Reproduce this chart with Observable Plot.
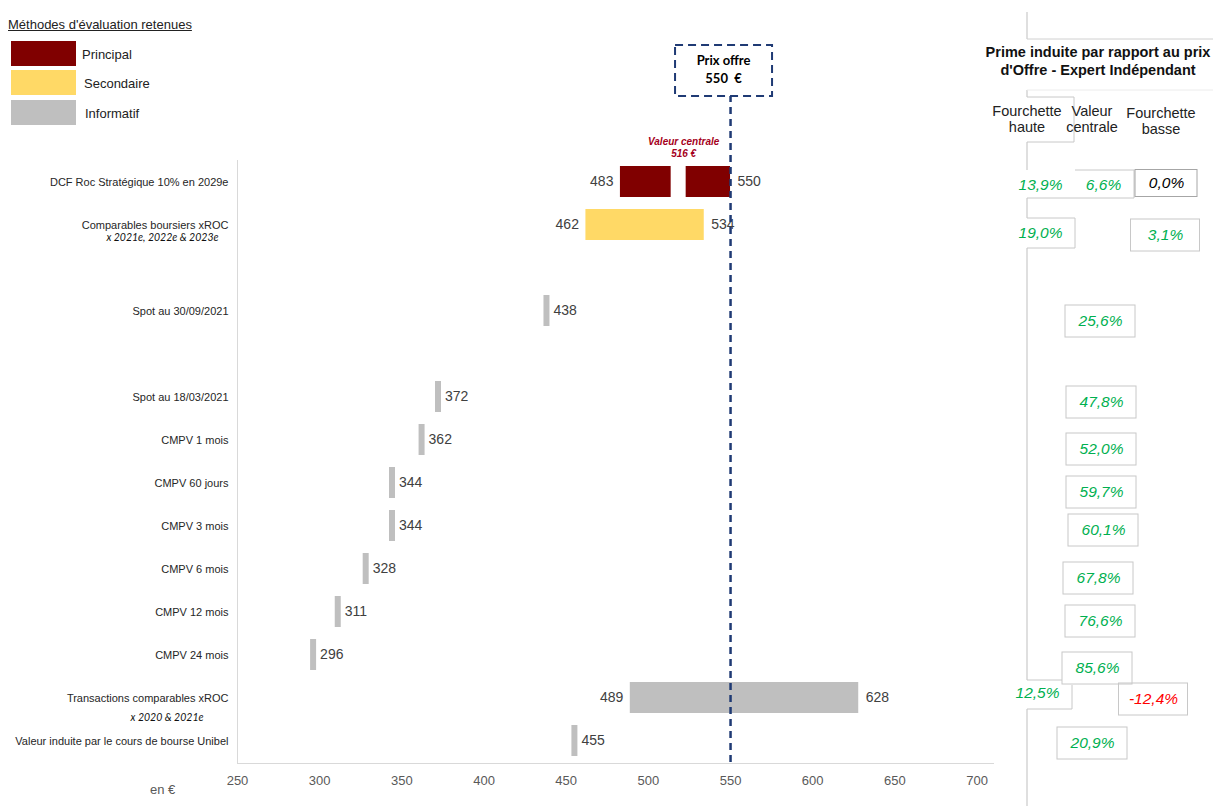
<!DOCTYPE html>
<html lang="fr"><head><meta charset="utf-8">
<script src="https://cdn.jsdelivr.net/npm/d3@7"></script>
<script src="https://cdn.jsdelivr.net/npm/@observablehq/plot@0.6"></script>
<style>
html,body{margin:0;padding:0;background:#fff;}
#wrap{position:relative;width:1213px;height:806px;overflow:hidden;font-family:"Liberation Sans",Arial,sans-serif;color:#222;}
#wrap svg{position:absolute;left:0;top:0;}
.abs{position:absolute;white-space:nowrap;}
.sw{position:absolute;}
</style></head><body><div id="wrap"></div>
<script>
// ---------- DATA ----------
const rows = ["DCF Roc Stratégique 10% en 2029e","Comparables boursiers xROC","Spot au 30/09/2021","Spot au 18/03/2021","CMPV 1 mois","CMPV 60 jours","CMPV 3 mois","CMPV 6 mois","CMPV 12 mois","CMPV 24 mois","Transactions comparables xROC","Valeur induite par le cours de bourse Unibel"];
const subLabels = ["","x 2021e, 2022e & 2023e","","","","","","","","","x 2020 & 2021e",""];
const methodType = ["Principal","Secondaire","Informatif","Informatif","Informatif","Informatif","Informatif","Informatif","Informatif","Informatif","Informatif","Informatif"];
const lowValues = [483,462,438,372,362,344,344,328,311,296,489,455];
const highValues = [550,534,null,null,null,null,null,null,null,null,628,null];
const centralValues = [516,null,null,null,null,null,null,null,null,null,null,null];
const offerPrice = 550;
const premiumHigh = [13.9,19.0,null,null,null,null,null,null,null,null,12.5,null];
const premiumCentral = [6.6,null,25.6,47.8,52.0,59.7,60.1,67.8,76.6,85.6,null,20.9];
const premiumLow = [0.0,3.1,null,null,null,null,null,null,null,null,-12.4,null];
const xTicks = [250,300,350,400,450,500,550,600,650,700];
const legendTypes = ["Principal","Secondaire","Informatif"];
const legendColors = ["#800000","#ffd966","#bfbfbf"];
const columnHeaders = [["Fourchette","haute"],["Valeur","centrale"],["Fourchette","basse"]];
const panelTitle = ["Prime induite par rapport au prix","d'Offre - Expert Indépendant"];

// ---------- BUILD ----------
const wrap = document.getElementById("wrap");
const data = rows.map((name,i)=>({name, sub: subLabels[i], type: methodType[i], low: lowValues[i], high: highValues[i], central: centralValues[i]}));
const yDomain = [rows[0], rows[1], "·gap1", rows[2], "·gap2", ...rows.slice(3)];
const ranges = data.filter(d=>d.high!=null);
const points = data.filter(d=>d.high==null);
const fontMain = "'Liberation Sans', Arial, sans-serif";
const premiumColor = v => v > 0 ? "#00b050" : v < 0 ? "#ff0000" : "#000000";
const fmtPct = v => v.toFixed(1).replace(".", ",") + "%";

// layout offsets (px) of the premium cells, relative to the right edge of the frame and the row centre
const cellOffsets = {
  high: {0:[47,3.5],1:[47,8.5],10:[44,-4.5]},
  central: {0:[110,3.5],2:[107,10.5],3:[108,5.5],4:[108,9.5],5:[108,9.5],6:[110,4.5],7:[105,9.5],8:[107,9.5],9:[104,13.5],11:[99,2.5]},
  low: {0:[173,1.5],1:[172,10.5],10:[160,1.5]}
};
const cells = [];
[["high",premiumHigh],["central",premiumCentral],["low",premiumLow]].forEach(([col, arr]) => arr.forEach((v,i)=>{
  if (v!=null){ const [dx,dy]=cellOffsets[col][i]; cells.push({name: rows[i], value: v, col, i, dx, dy}); }
}));

const plot = Plot.plot({
  width: 1213, height: 806,
  marginLeft: 237, marginRight: 220, marginTop: 160, marginBottom: 43,
  style: {fontFamily: fontMain, fontSize: "11px", color: "#262626", background: "transparent", overflow: "visible"},
  x: {domain: [250, 710]},
  y: {domain: yDomain, paddingInner: 0.27, paddingOuter: 0.135},
  color: {domain: legendTypes, range: legendColors},
  marks: [
    Plot.ruleX([250], {stroke: "#d9d9d9", strokeWidth: 1}),
    Plot.frame({anchor: "bottom", stroke: "#d9d9d9"}),
    Plot.axisX({ticks: xTicks, tickSize: 0, tickPadding: 12, fontSize: 13, color: "#595959", fill: "#595959", label: null, tickFormat: d => String(d)}),
    Plot.axisY({tickSize: 0, tickPadding: 9, fontSize: 11, color: "#262626", fill: "#262626", label: null, tickFormat: d => d.startsWith("·") ? "" : d}),
    Plot.text([data[1]], {y: "name", text: "sub", frameAnchor: "left", textAnchor: "end", dx: -19, dy: 12.5, fontStyle: "italic", fontFamily: "Lato", fontSize: 10.5, fill: "#111"}),
    Plot.text([data[10]], {y: "name", text: "sub", frameAnchor: "left", textAnchor: "end", dx: -34, dy: 19.5, fontStyle: "italic", fontFamily: "Lato", fontSize: 10.5, fill: "#111"}),
    Plot.barX(ranges, {x1: "low", x2: "high", y: "name", fill: "type"}),
    Plot.tickX(data.filter(d=>d.central!=null), {x: "central", y: "name", stroke: "white", strokeWidth: 15, dx: 3.5, insetTop: -1, insetBottom: -1}),
    Plot.tickX(points, {x: "low", y: "name", stroke: "type", strokeWidth: 6}),
    Plot.text(ranges, {x: "low", y: "name", text: d => String(d.low), textAnchor: "end", dx: -7, fontSize: 14, fill: "#404040"}),
    Plot.text(ranges, {x: "high", y: "name", text: d => String(d.high), textAnchor: "start", dx: 7, fontSize: 14, fill: "#404040"}),
    Plot.text(points, {x: "low", y: "name", text: d => String(d.low), textAnchor: "start", dx: 7, fontSize: 14, fill: "#404040"}),
    Plot.text(data.filter(d=>d.central!=null), {x: "central", y: "name", text: d => `Valeur centrale\n${d.central} €`, lineAnchor: "bottom", dx: 9, dy: -25, fill: "#a50021", fontWeight: "bold", fontStyle: "italic", fontSize: 10, lineHeight: 1.2}),
    ...cells.map(c => Plot.text([c], {y: "name", text: d => fmtPct(d.value), frameAnchor: "right", dx: c.dx, dy: c.dy, fill: premiumColor(c.value), fontSize: 15.5, fontStyle: "italic", textAnchor: "middle"})),
    Plot.ruleX([offerPrice], {stroke: "#1f3a74", strokeWidth: 2.5, strokeDasharray: "7,5", insetTop: -65})
  ]
});
wrap.appendChild(plot);

// ---------- decorations using the plot scales ----------
const svg = d3.select(plot);
const xs = plot.scale("x"), ys = plot.scale("y");
const rowCenter = name => ys.apply(name) + ys.bandwidth / 2;
const frameRight = 1213 - 220;
const cellCenter = c => [frameRight + c.dx, rowCenter(c.name) + c.dy];
const deco = svg.append("g").attr("fill", "none");
const line = (pts, stroke) => deco.append("polyline").attr("points", pts.map(p=>p.join(",")).join(" ")).attr("stroke", stroke || "#c8c8c8").attr("stroke-width", 1);

// offer price box
const ox = xs.apply(offerPrice);
const box = svg.append("g");
box.append("rect").attr("x", ox - 55).attr("y", 45).attr("width", 97).attr("height", 51)
  .attr("fill", "white").attr("stroke", "#1f3a74").attr("stroke-width", 2).attr("stroke-dasharray", "8,5");
box.append("text").attr("x", ox - 6.5).attr("y", 60).attr("dy", "0.35em").attr("text-anchor", "middle")
  .attr("font-family", "Lato").attr("font-weight", "bold").attr("font-size", 13).attr("fill", "#000").text("Prix offre");
box.append("text").attr("x", ox - 6.5).attr("y", 78).attr("dy", "0.35em").attr("text-anchor", "middle")
  .attr("font-family", "Lato").attr("font-weight", "bold").attr("font-size", 13).attr("fill", "#000").text(`${offerPrice}  €`);

// right panel borders
const px = 1027;
[[12,39],[90,97],[142,170],[198,218],[248,680],[709,806]].forEach(([a,b]) => line([[px,a],[px,b]], "#bfbfbf"));
line([[px,39],[1213,39]], "#d0d0d0");
line([[px,90],[1213,90]], "#ececec");
line([[px,97],[1074,97],[1074,142],[px,142]], "#c8c8c8");
cells.forEach(c => {
  const [cx, cy] = cellCenter(c);
  if (c.col === "central" && c.i === 0) { line([[1075,cy-15],[1134,cy-15],[1134,cy+13],[px,cy+13]]); }
  else if (c.col === "central") { deco.append("rect").attr("x", cx-35).attr("y", cy-16).attr("width", 70).attr("height", 32).attr("stroke", "#c8c8c8"); }
  else if (c.col === "low") {
    const w = c.i === 0 ? 62 : 69, h = c.i === 0 ? 27 : 32;
    deco.append("rect").attr("x", cx-w/2).attr("y", cy-h/2).attr("width", w).attr("height", h).attr("stroke", c.i === 0 ? "#a6a6a6" : "#c8c8c8");
  }
  else if (c.col === "high" && c.i === 1) { line([[px,cy-15],[1075,cy-15],[1075,cy+15],[px,cy+15]]); }
  else if (c.col === "high" && c.i === 10) { line([[px,cy-13],[1062,cy-13]]); line([[1072,cy-8],[1072,cy+16],[px,cy+16]]); }
});

// panel texts
const pt = svg.append("g").attr("font-family", fontMain).attr("text-anchor", "middle");
panelTitle.forEach((t,k) => pt.append("text").attr("x", 1098).attr("y", 52 + k*18).attr("dy", "0.35em")
  .attr("font-weight", "bold").attr("font-size", 14.5).attr("fill", "#111").text(t));
const hx = [1027, 1092, 1161], hy = [[111,127],[111,127],[113,129]];
columnHeaders.forEach((lines,k) => lines.forEach((t,j) => pt.append("text").attr("x", hx[k]).attr("y", hy[k][j]).attr("dy", "0.35em")
  .attr("font-size", 14.5).attr("fill", "#222").text(t)));

// legend + unit (HTML)
const leg = document.createElement("div");
leg.className = "abs"; leg.style.left = "8px"; leg.style.top = "17px";
leg.style.fontSize = "13px"; leg.style.textDecoration = "underline"; leg.style.color = "#222";
leg.textContent = "Méthodes d'évaluation retenues";
wrap.appendChild(leg);
const swTop = [41, 70, 100], lblX = [82, 84, 85];
legendTypes.forEach((t,k) => {
  const s = document.createElement("div");
  s.className = "sw"; s.style.left = "11px"; s.style.top = swTop[k] + "px"; s.style.width = "65px"; s.style.height = "25px"; s.style.background = legendColors[k];
  wrap.appendChild(s);
  const l = document.createElement("div");
  l.className = "abs"; l.style.left = lblX[k] + "px"; l.style.top = (swTop[k] + 6) + "px"; l.style.fontSize = "13px"; l.style.color = "#222";
  l.textContent = t;
  wrap.appendChild(l);
});
const unit = document.createElement("div");
unit.className = "abs"; unit.style.left = "150px"; unit.style.top = "782px"; unit.style.fontSize = "13px"; unit.style.color = "#595959";
unit.textContent = "en €";
wrap.appendChild(unit);
</script>
</body></html>
